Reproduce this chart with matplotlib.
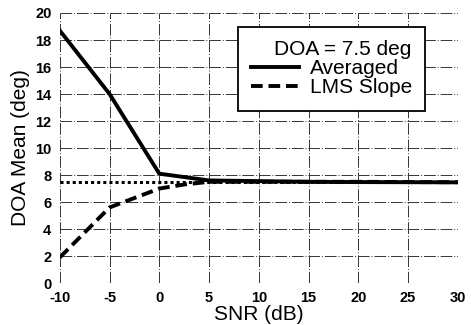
import numpy as np
import matplotlib.pyplot as plt

plt.rcParams['font.family'] = ['Liberation Sans', 'DejaVu Sans']
plt.rcParams['axes.unicode_minus'] = False

snr = [-10, -5, 0, 2.5, 5, 10, 15, 20, 25, 30]
averaged = [18.7, 14.0, 8.1, 7.85, 7.6, 7.55, 7.5, 7.48, 7.47, 7.46]
lms_slope = [1.9, 5.6, 7.0, 7.3, 7.5, 7.5, 7.5, 7.5, 7.48, 7.47]
true_doa = 7.5

fig = plt.figure(figsize=(4.71, 3.25), dpi=100)
ax = fig.add_axes([0.127, 0.129, 0.845, 0.831])

ax.plot([-10, 30], [true_doa, true_doa], color='black', lw=2.2, ls=(0, (1, 1)), zorder=2)
ax.plot(snr, averaged, color='black', lw=2.8, label='Averaged', zorder=3)
ax.plot(snr, lms_slope, color='black', lw=2.8, ls=(0, (3, 1.5)), label='LMS Slope', zorder=3)

ax.set_xlim(-10, 30)
ax.set_ylim(0, 20)
ax.set_xticks(np.arange(-10, 31, 5))
ax.set_yticks(np.arange(0, 21, 2))
ax.grid(True, color='0.2', lw=0.7, ls=(0, (12, 2, 1, 2)))
for s in ax.spines.values():
    s.set_visible(False)
ax.tick_params(length=0, labelsize=10.5, pad=6)
for t in ax.get_xticklabels() + ax.get_yticklabels():
    t.set_fontweight('bold')
ax.set_xlabel('SNR (dB)', fontsize=15, labelpad=0)
ax.set_ylabel('DOA Mean (deg)', fontsize=15, labelpad=4)

leg = ax.legend(title='DOA = 7.5 deg', loc='upper left', bbox_to_anchor=(0.447, 0.95),
                fontsize=15, title_fontsize=15, frameon=True, fancybox=False,
                framealpha=1, edgecolor='black', handlelength=2.3, handletextpad=0.5,
                labelspacing=0.0, borderpad=0.65, borderaxespad=0, alignment='right')
leg.get_frame().set_linewidth(1.3)

fig.savefig('out.png', dpi=100)
